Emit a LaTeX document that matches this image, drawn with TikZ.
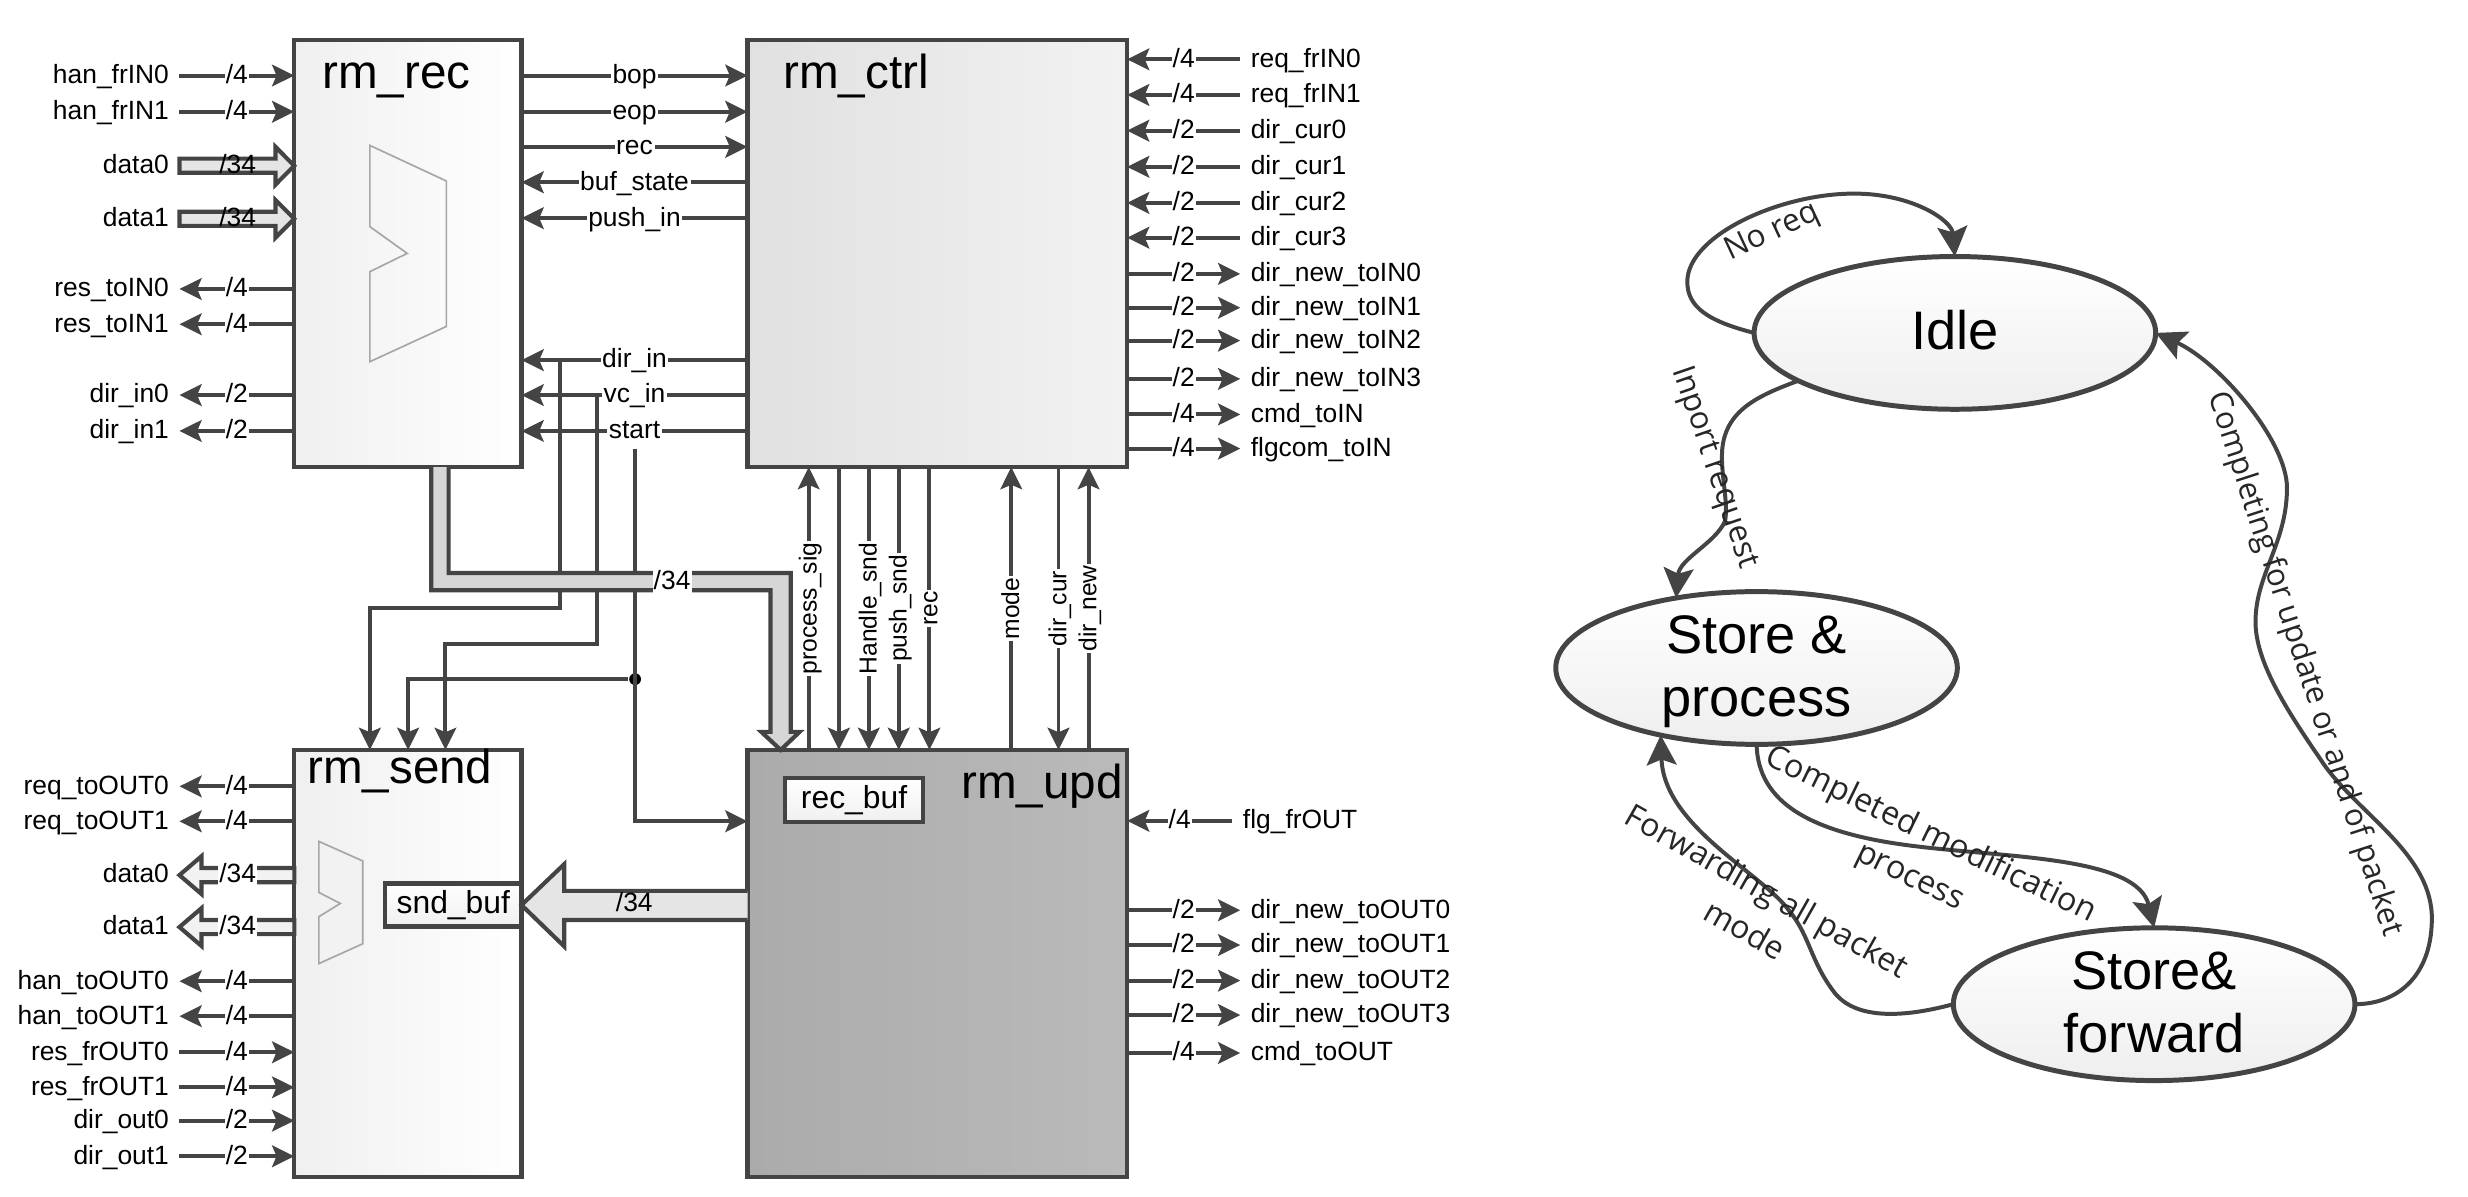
\documentclass[tikz,border=0pt]{standalone}
\usepackage{fontspec}
\setmainfont{Liberation Sans}
\newfontfamily\edgefont{Open Sans}
\usetikzlibrary{arrows.meta, calc, shapes.geometric}
\definecolor{wiregray}{HTML}{444444}
\catcode`\_=12

\begin{document}
\begin{tikzpicture}[x=0.01cm, y=-0.01cm,
  >={Stealth[length=4pt, width=3.9pt, inset=0.8pt]},
  wire/.style={draw=wiregray, line width=0.72pt},
  sigfont/.style={font=\fontsize{4.77}{5.7}\selectfont, text height=3.7pt, text depth=0.86pt},
  sigleft/.style={sigfont, anchor=east, inner xsep=1.7pt, inner ysep=0pt},
  sigright/.style={sigfont, anchor=west, inner xsep=1.7pt, inner ysep=0pt},
  sigmid/.style={sigfont, fill=white, inner xsep=0.3pt, inner ysep=0.6pt},
  sigup/.style={sigmid, font=\fontsize{4.45}{5.3}\selectfont, rotate=90},
  bitw/.style={sigfont, fill=white, inner sep=0.2pt},
  bitwbare/.style={sigfont, inner sep=0pt},
  blockbox/.style={draw=wiregray, line width=0.78pt, outer sep=0pt, inner sep=0pt,
    minimum height=2.713cm},
  blocktitle/.style={font=\fontsize{8.6}{10}\selectfont, anchor=base west, inner sep=0pt},
  bufbox/.style={draw=wiregray, line width=0.78pt, outer sep=0pt, inner sep=0pt,
    top color=white, bottom color=gray!12, font=\fontsize{5.75}{7}\selectfont},
  busshape/.style={draw=wiregray, line width=0.75pt, line join=miter},
  muxshape/.style={draw=gray!70, line width=0.3pt},
  statebox/.style={ellipse, draw=wiregray, line width=0.9pt, outer sep=0pt,
    top color=white, bottom color=gray!13, minimum width=2.55cm, minimum height=0.97cm},
  statetext/.style={align=center, font=\fontsize{9.8}{11.4}\selectfont, inner sep=0pt},
  edgetext/.style={align=center, font=\edgefont\fontsize{5.7}{8}\selectfont,
    text=black!85, inner sep=0pt},
  arc/.style={draw=wiregray, line width=0.72pt, -{Stealth[length=5.4pt, width=5.4pt, inset=1pt]}}]
  \useasboundingbox (0,0) rectangle (1568,760.5);

  % blocks
  \node[blockbox, minimum width=1.443cm, left color=gray!12, right color=white] (rmrec) at (259.15,161) {};
  \node[blockbox, minimum width=2.41cm, left color=gray!24, right color=gray!10] (rmctrl) at (595.5,161) {};
  \node[blockbox, minimum width=1.443cm, left color=gray!12, right color=white] (rmsend) at (259.15,612.2) {};
  \node[blockbox, minimum width=2.41cm, left color=gray!66, right color=gray!54] (rmupd) at (595.5,612.2) {};
  \node[blocktitle] (titlerec) at (204,56.4) {rm_rec};
  \node[blocktitle] (titlectrl) at (497,56.4) {rm_ctrl};
  \node[blocktitle] (titlesend) at (194.5,498) {rm_send};
  \node[blocktitle] (titleupd) at (610,507.4) {rm_upd};

  % muxes
  \draw[muxshape] (235,92.4) -- (283.6,115) -- (283.6,207.4) -- (235,229.8) -- (235,172.6)
    -- (258.7,161) -- (235,144) -- cycle;
  \draw[muxshape, fill=gray!10] (202.6,534.6) -- (230.5,547) -- (230.5,599.6) -- (202.6,612.2)
    -- (202.6,582.4) -- (216.2,574) -- (202.6,567) -- cycle;

  % left of rm_rec
  \foreach \y/\nm/\w in {48/han_frIN0/4, 71/han_frIN1/4} {
    \node[sigleft] (\nm) at (114,\y) {\nm};
    \draw[wire, ->] (\nm.east) -- node[bitw] (b\nm) {/\w} (\nm.east -| rmrec.west);
  }
  \foreach \y/\nm/\w in {183.6/res_toIN0/4, 206/res_toIN1/4, 251/dir_in0/2, 273.8/dir_in1/2} {
    \node[sigleft] (\nm) at (114,\y) {\nm};
    \draw[wire, ->] (\nm.east -| rmrec.west) -- node[bitw] (b\nm) {/\w} (\nm.east);
  }
  \foreach \y/\nm in {105.3/data0, 139/data1} {
    \node[sigleft] (rec\nm) at (114,\y) {\nm};
    \draw[busshape, fill=gray!20] ($(rec\nm.east)+(0,-4.5)$) -- (175,\y-4.5) -- (175,\y-12)
      -- (rec\nm.east -| rmrec.west) -- (175,\y+12) -- (175,\y+4.5) -- ($(rec\nm.east)+(0,4.5)$) -- cycle;
    \node[bitwbare] (b\nm) at (151,\y) {/34};
  }

  % left of rm_send
  \foreach \y/\nm/\w in {499.6/req_toOUT0/4, 521.8/req_toOUT1/4, 623.4/han_toOUT0/4, 645.6/han_toOUT1/4} {
    \node[sigleft] (\nm) at (114,\y) {\nm};
    \draw[wire, ->] (\nm.east -| rmsend.west) -- node[bitw] (b\nm) {/\w} (\nm.east);
  }
  \foreach \y/\nm/\w in {668.5/res_frOUT0/4, 690.8/res_frOUT1/4, 712/dir_out0/2, 734.6/dir_out1/2} {
    \node[sigleft] (\nm) at (114,\y) {\nm};
    \draw[wire, ->] (\nm.east) -- node[bitw] (b\nm) {/\w} (\nm.east -| rmsend.west);
  }
  \foreach \y/\nm in {556/data0, 589/data1} {
    \node[sigleft] (snd\nm) at (114,\y) {\nm};
    \draw[busshape, fill=gray!10] (snd\nm.east) -- (128,\y-12) -- (128,\y-4.5) -- (187,\y-4.5)
      -- (187,\y+4.5) -- (128,\y+4.5) -- (128,\y+12) -- cycle;
    \node[bitw] (bs\nm) at (151,\y) {/34};
  }

  % right of rm_ctrl
  \foreach \y/\nm/\w in {37.7/req_frIN0/4, 60.3/req_frIN1/4, 83/dir_cur0/2, 106/dir_cur1/2,
      128.9/dir_cur2/2, 151/dir_cur3/2} {
    \node[sigright] (\nm) at (788,\y) {\nm};
    \draw[wire, ->] (\nm.west) -- node[bitw] (b\nm) {/\w} (\nm.west -| rmctrl.east);
  }
  \foreach \y/\nm/\w in {174/dir_new_toIN0/2, 195.5/dir_new_toIN1/2, 216.4/dir_new_toIN2/2,
      240.7/dir_new_toIN3/2, 263.3/cmd_toIN/4, 285/flgcom_toIN/4} {
    \node[sigright] (\nm) at (788,\y) {\nm};
    \draw[wire, ->] (\nm.west -| rmctrl.east) -- node[bitw] (b\nm) {/\w} (\nm.west);
  }

  % right of rm_upd
  \node[sigright] (flg_frOUT) at (783,521.5) {flg_frOUT};
  \draw[wire, ->] (flg_frOUT.west) -- node[bitw] (bflg) {/4} (flg_frOUT.west -| rmupd.east);
  \foreach \y/\nm/\w in {578.3/dir_new_toOUT0/2, 600.4/dir_new_toOUT1/2, 623/dir_new_toOUT2/2,
      644.9/dir_new_toOUT3/2, 669/cmd_toOUT/4} {
    \node[sigright] (\nm) at (788,\y) {\nm};
    \draw[wire, ->] (\nm.west -| rmupd.east) -- node[bitw] (b\nm) {/\w} (\nm.west);
  }

  % rm_rec to rm_ctrl
  \foreach \y/\nm in {48/bop, 71/eop, 93.3/rec} {
    \draw[wire, ->] (rmrec.east |- 0,\y) -- node[sigmid] (mid\nm) {\nm} (rmctrl.west |- 0,\y);
  }
  \foreach \y/\nm in {115.8/buf_state, 138.6/push_in, 228.8/dir_in, 251/vc_in, 273.8/start} {
    \draw[wire, <-] (rmrec.east |- 0,\y) -- node[sigmid] (mid\nm) {\nm} (rmctrl.west |- 0,\y);
  }

  % rm_ctrl to rm_upd
  \foreach \x/\nm in {513.8/process_sig, 642.5/mode, 691.6/dir_new} {
    \draw[wire, <-] (\x,0 |- rmctrl.south) -- node[sigup] (low\nm) {\nm} (\x,0 |- rmupd.north);
  }
  \foreach \x/\nm in {552/Handle_snd, 571/push_snd, 590.5/rec, 672.5/dir_cur} {
    \draw[wire, ->] (\x,0 |- rmctrl.south) -- node[sigup] (low\nm) {\nm} (\x,0 |- rmupd.north);
  }
  \draw[wire, ->] (533,0 |- rmctrl.south) -- (533,0 |- rmupd.north);

  % branches to rm_send
  \node[circle, fill=black, inner sep=0pt, minimum size=0.075cm] (startdot) at (403.5,431.5) {};
  \draw[wire, ->] (355.6,0 |- middir_in) |- (235,386) -- (235,0 |- rmsend.north);
  \draw[wire, ->] (379.3,0 |- midvc_in) |- (283,409) -- (283,0 |- rmsend.north);
  \draw[wire, ->] (midstart.south) |- (rmupd.west |- 0,521.8);
  \draw[wire, ->] (startdot) -| (259.3,0 |- rmsend.north);

  % buses
  \draw[busshape, fill=gray!32] (274,0 |- rmrec.south) -- (274,375) -- (489.5,375) -- (489.5,465)
    -- (483.7,465) -- (496,0 |- rmupd.north) -- (508,465) -- (502.4,465) -- (502.4,364) -- (285,364)
    -- (285,0 |- rmrec.south);
  \node[bitw] (bbus) at (427,369.5) {/34};

  \node[bufbox, minimum width=0.875cm, minimum height=0.281cm] (rec_buf) at (542.6,508.4) {rec_buf};
  \node[bufbox, minimum width=0.866cm, minimum height=0.273cm] (snd_buf) at (288,575) {snd_buf};
  \draw[busshape, fill=gray!20] (rmupd.west |- 0,566) -- (358.5,566) -- (358.5,549) -- (snd_buf.east)
    -- (358.5,601.3) -- (358.5,584.5) -- (rmupd.west |- 0,584.5);
  \node[bitwbare] (bbig) at (403,574) {/34};

  % state machine
  \node[statebox] (idle) at (1242,211.5) {};
  \node[statebox] (store) at (1116,424.4) {};
  \node[statebox] (forward) at (1368.6,638) {};
  \node[statetext] (idletext) at (1242,210) {Idle};
  \node[statetext] (storetext) at (1116,427) {Store \&\\process};
  \node[statetext] (forwardtext) at (1368.6,637) {Store\&\\forward};

  \draw[arc] (idle.west) .. controls (1085,204) and (1072,195) .. (1072,179)
    .. controls (1072,150) and (1130,123) .. (1178,123)
    .. controls (1215,123) and (1240,140) .. (idle.north);
  \draw[arc] (idle.197) .. controls (1115,252) and (1094,262) .. (1094,290)
    .. controls (1094,305) and (1098,320) .. (1096,331)
    .. controls (1090,345) and (1067,355) .. (store.139);
  \draw[arc] (store.south) .. controls (1117,510) and (1150,530) .. (1220,538)
    .. controls (1280,545) and (1358,545) .. (forward.north);
  \draw[arc] (forward.west) .. controls (1215,645) and (1180,650) .. (1165,630)
    .. controls (1150,610) and (1150,595) .. (1137,579)
    .. controls (1120,555) and (1057,525) .. (store.215);
  \draw[arc] (forward.east) .. controls (1525,638) and (1546,618) .. (1545,581)
    .. controls (1543,540) and (1495,515) .. (1474,482)
    .. controls (1452,450) and (1433,420) .. (1433,395)
    .. controls (1433,365) and (1453,345) .. (1453,310)
    .. controls (1453,280) and (1410,230) .. (idle.east);

  \node[edgetext, rotate=25] (noreq) at (1126,148) {No req};
  \node[edgetext, rotate=-71] (inport) at (1089,297) {Inport request};
  \node[edgetext, font=\edgefont\fontsize{5.6}{8}\selectfont, rotate=-72] (completing) at (1464,422) {Completing for update or and of packet};
  \node[edgetext, font=\edgefont\fontsize{5.85}{8.4}\selectfont, rotate=-26] (completed) at (1220,544) {Completed modification\\process};
  \node[edgetext, font=\edgefont\fontsize{5.8}{8}\selectfont, rotate=-29.5] (forwarding) at (1116,578) {Forwarding all packet\\mode};
\end{tikzpicture}
\end{document}
